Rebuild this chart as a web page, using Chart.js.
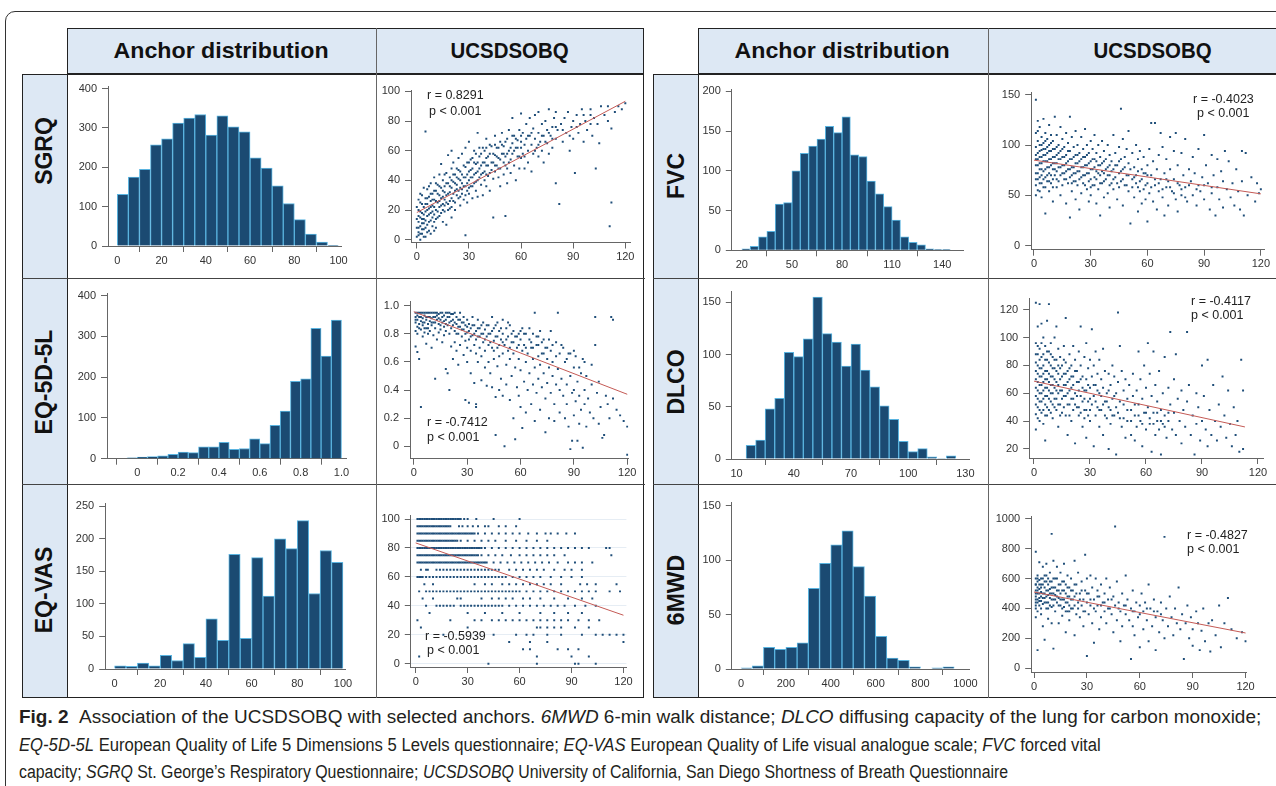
<!DOCTYPE html>
<html>
<head>
<meta charset="utf-8">
<script src="https://cdn.jsdelivr.net/npm/chart.js@4.4.1/dist/chart.umd.min.js"></script>
<style>
  body { margin: 0; background: #fff; }
  #fig { position: relative; width: 1276px; height: 786px; overflow: hidden; font-family: 'Liberation Sans', Arial, sans-serif; }
  .abs { position: absolute; box-sizing: border-box; }
  .blue { background: #dde8f4; }
  .box { border: 1.5px solid #222; }
  .hline { height: 0; border-top: 1px solid #444; }
  .vline { width: 0; border-left: 1px solid #666; }
  .head { font-weight: bold; font-size: 22px; color: #111; text-align: center; line-height: 46px; }
  .head span { display: inline-block; white-space: nowrap; }
  .rlab { font-weight: bold; font-size: 23px; color: #111; white-space: nowrap; transform: translate(-50%, -50%) rotate(-90deg); }
  .note { font-size: 12.5px; color: #222; white-space: nowrap; line-height: 14px; transform: translateY(-50%); }
  canvas { position: absolute; }
  .cap { position: absolute; left: 19px; width: max-content; white-space: nowrap; line-height: 22px; font-family: 'Liberation Sans', Arial, sans-serif; font-size: 18px; color: #231f20; transform-origin: 0 50%; }
</style>
</head>
<body>
<div id="fig">
  <!-- outer frame -->
  <div class="abs" style="left:4.5px;top:10.5px;width:1300px;height:800px;border:1.3px solid #333;border-radius:10px;"></div>

  <!-- left table -->
  <div class="abs blue box" style="left:67px;top:28px;width:577px;height:46px;"></div>
  <div class="abs blue box" style="left:21.5px;top:74px;width:46px;height:624px;"></div>
  <div class="abs box" style="left:67px;top:74px;width:577px;height:624px;"></div>
  <div class="abs hline" style="left:21.5px;top:278px;width:623px;"></div>
  <div class="abs hline" style="left:21.5px;top:484px;width:623px;"></div>
  <div class="abs vline" style="left:376px;top:28px;height:670px;"></div>
  <div class="abs head" style="left:67px;top:28px;width:309px;"><span data-w="215">Anchor distribution</span></div>
  <div class="abs head" style="left:376px;top:28px;width:268px;"><span data-w="118">UCSDSOBQ</span></div>

  <!-- right table -->
  <div class="abs blue box" style="left:698px;top:28px;width:640px;height:46px;"></div>
  <div class="abs blue box" style="left:652.5px;top:74px;width:46px;height:624px;"></div>
  <div class="abs box" style="left:698px;top:74px;width:640px;height:624px;"></div>
  <div class="abs hline" style="left:652.5px;top:278px;width:700px;"></div>
  <div class="abs hline" style="left:652.5px;top:484px;width:700px;"></div>
  <div class="abs vline" style="left:987.5px;top:28px;height:670px;"></div>
  <div class="abs head" style="left:698px;top:28px;width:289px;"><span data-w="215">Anchor distribution</span></div>
  <div class="abs head" style="left:987.5px;top:28px;width:331px;"><span data-w="118">UCSDSOBQ</span></div>

  <div id="labels"></div>
  <div id="plots"></div>
  <div id="notes"></div>

  <div class="cap" style="top:706px;"><b>Fig. 2</b>&nbsp;&nbsp;Association of the UCSDSOBQ with selected anchors. <i>6MWD</i> 6-min walk distance; <i>DLCO</i> diffusing capacity of the lung for carbon monoxide;</div>
  <div class="cap" style="top:734px;"><i>EQ-5D-5L</i> European Quality of Life 5 Dimensions 5 Levels questionnaire; <i>EQ-VAS</i> European Quality of Life visual analogue scale; <i>FVC</i> forced vital</div>
  <div class="cap" style="top:761px;">capacity; <i>SGRQ</i> St. George’s Respiratory Questionnaire; <i>UCSDSOBQ</i> University of California, San Diego Shortness of Breath Questionnaire</div>
</div>

<script>
// ---------- row labels ----------
const rowNames = ["SGRQ", "EQ-5D-5L", "EQ-VAS", "FVC", "DLCO", "6MWD"];

// ---------- histogram data (bin start, bin width, counts) ----------
const sgrqBin = [0, 5];
const sgrqCounts = [131, 175, 195, 257, 272, 312, 325, 334, 282, 331, 303, 290, 224, 198, 153, 108, 67, 30, 10, 2];

const eq5dBin = [-0.05, 0.05];
const eq5dCounts = [2, 4, 5, 7, 11, 16, 15, 29, 29, 40, 23, 25, 49, 37, 82, 117, 190, 196, 320, 252, 340];

const vasBin = [0, 5];
const vasCounts = [5, 4, 9, 5, 21, 13, 39, 18, 77, 44, 176, 47, 171, 112, 200, 185, 228, 116, 182, 164];

const fvcBin = [20, 5];
const fvcCounts = [2, 5, 17, 24, 58, 60, 100, 122, 131, 140, 156, 148, 168, 120, 118, 87, 71, 55, 38, 17, 10, 7, 2, 1, 1];

const dlcoBin = [15, 5];
const dlcoCounts = [13, 18, 48, 58, 102, 98, 115, 155, 120, 112, 89, 110, 85, 69, 51, 38, 17, 7, 10, 2, 0.5, 3];

const mwdBin = [0, 50];
const mwdCounts = [1, 3, 20, 18, 20, 24, 74, 97, 114, 127, 94, 67, 30, 10, 8, 2, 0, 1, 2];

// ---------- tick values ----------
const ticks0to100 = [0, 20, 40, 60, 80, 100];
const ticks0to400 = [0, 100, 200, 300, 400];
const ticksUcsd = [0, 30, 60, 90, 120];
const ticksEq5d = [0, 0.2, 0.4, 0.6, 0.8, 1.0];
const ticksVasY = [0, 50, 100, 150, 200, 250];
const ticksFvcX = [20, 50, 80, 110, 140];
const ticksFvcY = [0, 50, 100, 150, 200];
const ticksFvcScY = [0, 50, 100, 150];
const ticksDlcoX = [10, 40, 70, 100, 130];
const ticksDlcoY = [0, 50, 100, 150];
const ticksDlcoScY = [20, 40, 60, 80, 100, 120];
const ticksMwdX = [0, 200, 400, 600, 800, 1000];
const ticksMwdY = [0, 50, 100, 150];
const ticksMwdScY = [0, 200, 400, 600, 800, 1000];

// ---------- scatter data: [UCSDSOBQ, anchor] ----------
const sgrqPts = [
  [0,2],[0,8],[1,3],[1,12],[1,20],[1,5],[2,0],[2,15],[2,25],[2,9],[3,4],[3,18],[3,30],[3,11],[4,7],[4,22],[4,14],[5,2],[5,19],[5,28],[5,73],
  [6,10],[6,24],[6,34],[6,16],[7,6],[7,21],[7,29],[8,13],[8,26],[8,38],[8,18],[9,9],[9,23],[9,31],[10,17],[10,27],[10,42],[10,12],
  [11,20],[11,33],[11,8],[12,25],[12,37],[12,15],[13,22],[13,44],[13,30],[14,18],[14,28],[14,51],[15,12],[15,33],[15,24],[15,40],
  [16,27],[16,36],[16,19],[17,30],[17,45],[17,10],[18,24],[18,38],[18,57],[19,32],[19,21],[19,42],[20,28],[20,35],[20,48],[20,15],[20,60],
  [21,26],[21,39],[21,52],[22,33],[22,44],[22,20],[23,30],[23,48],[23,37],[24,28],[24,55],[24,41],[25,35],[25,23],[25,46],[26,38],[26,31],[26,58],
  [27,42],[27,27],[28,3],[28,36],[28,49],[28,62],[29,33],[29,44],[29,25],[30,40],[30,52],[30,31],[30,66],
  [31,36],[31,47],[32,28],[32,55],[32,42],[33,38],[33,60],[34,45],[34,33],[34,51],[35,40],[35,72],[35,29],[36,48],[36,56],[37,37],[37,44],
  [38,52],[38,62],[38,30],[39,46],[39,40],[40,55],[40,36],[40,68],[41,50],[41,43],[42,58],[42,33],[43,47],[43,63],[44,15],[44,52],[44,41],[45,57],[45,70],[45,46],
  [46,50],[46,62],[47,42],[47,55],[48,66],[48,48],[48,36],[49,58],[49,72],[50,52],[50,44],[50,63],[51,16],[51,56],[52,68],[52,48],[52,38],
  [53,60],[53,74],[54,54],[54,45],[55,65],[55,58],[55,82],[56,50],[56,70],[57,62],[57,40],[58,67],[58,56],[59,74],[59,48],[60,62],[60,55],[60,70],[60,85],
  [61,58],[61,72],[62,64],[62,48],[63,68],[63,78],[64,60],[64,52],[65,70],[65,82],[66,64],[66,46],[67,75],[67,58],[68,68],[68,84],[69,62],[70,72],[70,56],[70,86],
  [71,66],[72,78],[72,60],[73,70],[73,52],[74,80],[75,65],[75,74],[76,88],[76,58],[77,70],[78,76],[78,62],[79,82],[80,68],[80,86],[80,38],[82,24],[81,74],
  [83,78],[84,66],[85,82],[86,72],[87,86],[88,60],[89,76],[90,80],[90,68],[91,45],[92,84],[93,72],[94,78],[95,88],[96,66],[97,80],[98,74],
  [100,84],[100,88],[101,70],[102,82],[104,78],[105,65],[106,90],[108,84],[110,80],[110,90],[111,9],[112,25],[112,75],[114,86],[116,90],[118,88],[120,92],[103,48],
  [0,14],[0,22],[1,8],[1,16],[1,27],[2,4],[2,19],[2,31],[3,7],[3,14],[3,24],[4,2],[4,11],[4,17],[4,35],[5,8],[5,13],[5,24],[6,5],[6,20],[6,28],[7,12],[7,17],[7,36],
  [8,4],[8,22],[8,31],[9,15],[9,19],[9,27],[10,6],[10,22],[10,33],[11,14],[11,26],[11,38],[12,19],[12,31],[13,16],[13,26],[13,36],[14,23],[14,35],[15,20],[15,29],
  [16,23],[16,32],[16,44],[17,25],[17,38],[18,20],[18,31],[19,26],[19,36],[20,22],[20,40],[21,31],[21,44],[22,25],[22,38],[23,34],[23,42],[24,33],[24,47],[25,29],[25,40],
  [26,34],[26,44],[27,36],[27,50],[28,30],[28,42],[29,38],[29,52],[30,35],[30,46],[31,42],[31,54],[32,36],[32,48],[33,44],[33,52],[34,39],[34,58],[35,46],[35,52],
  [36,42],[36,62],[37,50],[37,58],[38,45],[39,52],[39,60],[40,44],[40,50],[40,62],[41,56],[42,45],[42,64],[43,52],[44,58],[45,50],[45,64],[46,56],[47,48],[47,62],
  [48,54],[49,64],[50,58],[51,50],[51,66],[52,58],[53,52],[54,62],[55,70],[56,60],[57,68],[58,62],[59,56],[60,66],[62,56],[64,70],[66,72],[68,60],[70,64],[72,70],
  [74,66],[76,72],[78,68],[80,76],[84,74],[88,70],[92,76],[96,84],[100,78]
];
const sgrqFit = [[0, 18.3], [120, 93.3]];

const eq5dPts = [
  [1,0.95],[1,0.92],[1,0.88],[1,0.82],[1,0.71],[2,0.95],[2,0.9],[2,0.85],[2,0.8],[2,0.67],[3,0.95],[3,0.92],[3,0.87],[3,0.62],[4,0.95],[4,0.89],[4,0.83],[4,0.28],
  [5,0.95],[5,0.91],[5,0.86],[5,0.78],[6,0.95],[6,0.93],[6,0.88],[6,0.81],[7,0.95],[7,0.9],[7,0.84],[7,0.73],[8,0.95],[8,0.92],[8,0.87],[8,0.8],[9,0.95],[9,0.89],[9,0.82],
  [10,0.95],[10,0.91],[10,0.86],[10,0.7],[11,0.95],[11,0.88],[11,0.79],[12,0.95],[12,0.92],[12,0.84],[12,0.48],[13,0.95],[13,0.9],[13,0.76],[14,0.94],[14,0.87],[14,0.81],[15,0.95],[15,0.9],[15,0.83],
  [16,0.95],[16,0.88],[16,0.74],[17,0.93],[17,0.85],[17,0.79],[18,0.95],[18,0.9],[18,0.82],[18,0.55],[19,0.92],[19,0.86],[19,0.52],[20,0.95],[20,0.88],[20,0.8],[20,0.4],
  [21,0.94],[21,0.84],[21,0.71],[22,0.9],[22,0.86],[22,0.62],[23,0.95],[23,0.82],[23,0.74],[24,0.92],[24,0.87],[24,0.68],[25,0.9],[25,0.8],[25,0.58],[26,0.95],[26,0.85],[26,0.72],
  [27,0.88],[27,0.78],[28,0.92],[28,0.83],[28,0.65],[29,0.86],[29,0.75],[29,0.33],[30,0.9],[30,0.81],[30,0.7],[30,0.6],[31,0.87],[31,0.76],[31,0.31],[32,0.84],[32,0.68],[32,0.52],
  [33,0.92],[33,0.79],[34,0.86],[34,0.72],[34,0.45],[35,0.82],[35,0.66],[35,0.3],[35,0.28],
  [36,0.9],[36,0.78],[36,0.6],[37,0.84],[37,0.7],[38,0.8],[38,0.64],[38,0.47],[39,0.88],[39,0.74],[40,0.83],[40,0.68],[40,0.56],[41,0.78],[41,0.43],[42,0.86],[42,0.72],[42,0.6],
  [43,0.8],[43,0.52],[44,0.92],[44,0.7],[44,0.42],[45,0.84],[45,0.75],[45,0.62],[46,0.78],[46,0.35],[46,0.08],[47,0.88],[47,0.7],[47,0.57],[48,0.82],[48,0.64],[48,0.4],
  [49,0.76],[49,0.48],[50,0.9],[50,0.8],[50,0.66],[50,0.36],[51,0.72],[51,0.0],[52,0.84],[52,0.58],[52,0.44],[53,0.78],[53,0.68],[54,0.86],[54,0.62],[54,0.33],[55,0.74],[55,0.5],
  [56,0.82],[56,0.66],[56,0.2],[57,0.78],[57,0.56],[57,0.05],[58,0.7],[58,0.42],[59,0.8],[59,0.62],[59,0.36],[60,0.76],[60,0.54],[60,0.28],
  [61,0.84],[61,0.68],[61,0.13],[62,0.72],[62,0.46],[63,0.8],[63,0.6],[63,0.24],[64,0.66],[64,0.4],[65,0.76],[65,0.52],[66,0.7],[66,0.3],[67,0.8],[67,0.62],[67,0.44],
  [68,0.95],[68,0.56],[68,0.18],[69,0.72],[69,0.38],[70,0.78],[70,0.64],[70,0.48],[71,0.58],[71,0.26],[72,0.74],[72,0.42],[73,0.66],[73,0.52],[74,0.7],[74,0.34],[74,0.1],
  [75,0.62],[75,0.45],[76,0.56],[76,0.2],[77,0.68],[77,0.38],[78,0.6],[78,0.5],[79,0.3],[79,0.18],[80,0.64],[80,0.44],[81,0.95],[81,0.55],[82,0.4],[82,0.24],[83,0.72],[83,0.48],
  [84,0.36],[85,0.6],[85,0.2],[86,0.44],[86,0.3],[87,0.66],[87,0.14],[88,0.5],[88,-0.02],[89,0.38],[89,0.04],[90,0.56],[90,0.4],[90,0.22],
  [91,0.64],[91,0.32],[92,0.46],[92,0.04],[93,0.36],[93,0.16],[94,0.52],[94,0.26],[95,0.62],[95,-0.01],[96,0.4],[96,0.3],[97,0.5],[97,0.14],[98,0.34],[99,0.24],
  [100,0.44],[100,0.58],[101,0.2],[102,0.92],[102,0.72],[103,0.38],[104,0.46],[104,0.16],[105,0.28],[106,0.06],[107,0.08],[108,0.36],[109,0.3],[110,0.2],
  [111,0.92],[112,0.9],[112,0.34],[114,0.26],[116,0.22],[118,0.18],[120,0.14],[120,-0.06],
  [1,0.9],[2,0.93],[3,0.84],[4,0.92],[5,0.88],[6,0.84],[7,0.92],[8,0.84],[9,0.92],[10,0.88],[11,0.92],[12,0.88],[13,0.93],[14,0.91],[15,0.86],[16,0.92],[17,0.89],
  [18,0.87],[19,0.95],[20,0.92],[21,0.89],[22,0.94],[23,0.88],[24,0.8],[25,0.85],[26,0.9],[27,0.83],[28,0.88],[29,0.8],[30,0.85],[31,0.82],[32,0.78],[33,0.86],
  [34,0.8],[35,0.76],[36,0.84],[37,0.78],[38,0.86],[39,0.8],[40,0.76],[41,0.86],[42,0.8],[43,0.74],[44,0.82],[45,0.68],[46,0.86],[47,0.78],[48,0.72],[49,0.84],
  [50,0.74],[52,0.76],[53,0.88],[54,0.7],[55,0.8],[56,0.74],[58,0.78],[59,0.72],[60,0.82],[62,0.8],[63,0.7],[65,0.84],[66,0.74],[67,0.7],[69,0.78],[70,0.72],
  [71,0.82],[72,0.66],[73,0.76],[75,0.7],[76,0.76],[77,0.82],[78,0.72],[80,0.74],[82,0.66],[84,0.7],[86,0.62],[88,0.66],[90,0.68],[93,0.56],[96,0.6]
];
const eq5dFit = [[0, 0.957], [120, 0.37]];

// EQ-VAS answers sit on whole steps, so its cloud is kept as rows
const vasLevels = [100, 95, 90, 85, 80, 75, 70, 65, 60, 55, 50, 45, 40, 35, 30, 25, 20, 15, 10, 5, 0];
const vasRowsX = [
  [1,2,3,4,5,6,7,8,9,10,11,12,13,14,15,16,17,18,19,20,21,22,23,24,25,26,28,30,35,45,60],
  [1,2,3,4,5,6,7,8,9,10,11,12,13,14,15,16,17,18,19,20,25,27,30,33,36,40,42,48,52,58],
  [1,2,3,4,5,6,7,8,9,10,11,12,13,14,15,16,17,18,19,20,21,22,23,24,25,26,27,28,29,30,31,32,33,34,36,40,44,48,52,56,60,65,70,75,78,82,87,92],
  [1,2,3,4,5,6,7,8,9,10,11,12,13,14,15,16,17,18,19,20,21,22,23,24,26,30,34,38,42,46,52,58,64,70,76],
  [1,2,3,4,5,6,7,8,9,10,11,12,13,14,15,16,17,18,19,20,21,22,23,24,25,26,27,28,29,30,31,32,33,34,35,36,37,38,40,44,48,52,56,60,64,68,72,76,80,84,88,92,96,100,110,112],
  [1,2,3,4,5,6,7,8,9,10,11,12,13,14,15,16,17,18,19,20,21,22,23,24,25,26,27,28,29,30,31,32,33,34,35,36,38,42,46,50,55,60,64,68,72,76,80,86,113],
  [1,2,3,4,5,6,7,8,9,10,11,12,13,14,15,16,17,18,19,20,21,22,23,24,25,26,27,28,29,30,31,32,33,34,35,36,37,38,39,40,41,45,49,53,57,61,65,69,73,77,82,88,92,96,102],
  [3,6,7,12,14,16,18,20,22,24,26,28,30,32,34,36,38,40,42,44,46,48,54,58,62,66,70,74,80,86,90,96],
  [1,2,3,4,6,8,10,12,14,16,18,20,22,24,26,28,30,32,34,36,38,40,42,44,46,48,50,52,56,60,64,68,72,78,84,90,96],
  [5,10,34,40,44,50,54,58,62,66,70,74,78,84,95,99,104,116],
  [2,6,8,10,12,14,16,18,20,22,24,26,28,30,32,34,36,38,40,42,44,46,48,50,52,54,56,58,60,64,68,72,76,80,84,88,92,96,100,104,112,118],
  [4,10,24,26,38,44,48,52,56,62,66,72,80,88,96,102],
  [6,12,14,16,18,20,22,26,28,30,32,34,36,38,40,42,44,46,48,50,54,58,62,66,70,74,78,82,86,92,98,104],
  [8,30,40,50,60,72,80,88,96],
  [1,20,34,38,44,48,52,56,60,64,68,72,76,80,84,88,94,100,106],
  [3,30,70,72,76,80,84,92,100],
  [16,45,58,64,68,76,84,96,104,108,112,116,120],
  [54,66,76,120],
  [62,66,82,88,94],
  [2,70,90,100],
  [42,70,92,94,104]
];
const vasFit = [[0, 83.5], [120, 33.5]];

const fvcPts = [
  [1,145],[1,112],[1,98],[1,86],[1,72],[1,60],[1,50],[2,124],[2,104],[2,92],[2,80],[2,66],[2,55],[3,118],[3,100],[3,88],[3,76],[3,62],[4,108],[4,95],[4,82],[4,70],[4,48],
  [5,126],[5,102],[5,90],[5,74],[5,58],[6,112],[6,96],[6,84],[6,68],[6,32],[7,106],[7,92],[7,78],[7,64],[8,120],[8,100],[8,86],[8,72],[8,54],[9,110],[9,94],[9,80],[9,62],
  [10,104],[10,88],[10,76],[10,66],[10,44],
  [11,128],[11,96],[11,82],[11,70],[12,110],[12,90],[12,74],[12,58],[13,100],[13,86],[13,64],[14,118],[14,94],[14,78],[14,50],[15,106],[15,88],[15,72],[15,60],
  [16,98],[16,80],[16,66],[17,112],[17,90],[17,74],[17,42],[18,102],[18,84],[18,62],[19,128],[19,94],[19,76],[19,28],[20,108],[20,86],[20,70],[20,54],
  [21,98],[21,78],[21,64],[22,114],[22,90],[22,72],[22,46],[23,100],[23,82],[23,60],[24,92],[24,74],[24,36],[25,108],[25,86],[25,68],[25,52],[26,96],[26,78],[26,62],
  [27,116],[27,88],[27,70],[28,100],[28,80],[28,56],[29,92],[29,72],[29,44],[30,104],[30,84],[30,66],[30,50],
  [31,96],[31,76],[31,60],[32,110],[32,86],[32,68],[33,92],[33,74],[33,42],[34,100],[34,80],[34,56],[35,88],[35,70],[35,30],[36,104],[36,82],[36,62],[37,94],[37,72],[37,48],
  [38,86],[38,66],[39,100],[39,78],[39,52],[40,90],[40,70],[40,38],[41,84],[41,62],[42,110],[42,76],[42,56],[43,92],[43,68],[44,80],[44,46],[45,98],[45,72],[45,58],
  [46,136],[46,86],[46,64],[47,106],[47,76],[47,40],[48,88],[48,60],[49,96],[49,70],[50,82],[50,54],[50,114],[51,22],[52,92],[52,66],[53,78],[53,48],[54,100],[54,70],
  [55,86],[55,58],[55,34],[56,94],[56,64],[57,76],[57,42],[58,88],[58,56],[59,72],[59,46],[60,80],[60,24],[60,62],
  [61,96],[61,52],[62,122],[62,70],[63,84],[63,44],[64,122],[64,60],[65,76],[65,36],[66,90],[66,54],[67,112],[67,66],[68,98],[68,48],[69,72],[69,30],[70,86],[70,58],
  [71,64],[71,40],[72,108],[72,76],[73,54],[74,94],[74,66],[75,112],[75,46],[76,80],[76,34],[77,60],[78,92],[78,50],[79,70],[80,58],[80,106],[81,44],[82,76],[83,64],
  [84,88],[84,50],[85,72],[86,40],[87,96],[87,60],[88,54],[89,68],[90,110],[90,46],
  [91,80],[92,62],[93,36],[94,90],[94,52],[95,70],[96,30],[97,86],[97,58],[98,46],[99,74],[100,64],[100,38],[101,94],[102,56],[103,84],[104,48],[105,62],[106,40],
  [107,76],[108,54],[109,36],[110,64],[110,94],[111,30],[112,92],[113,50],[115,68],[117,44],[118,62],[119,52],[120,56],
  [1,90],[1,80],[1,66],[2,114],[2,86],[2,72],[3,94],[3,82],[3,68],[3,54],[4,100],[4,88],[4,76],[4,62],[5,96],[5,84],[5,66],[6,104],[6,90],[6,76],[6,58],
  [7,98],[7,84],[7,70],[8,94],[8,78],[8,64],[9,102],[9,86],[9,70],[10,96],[10,82],[10,58],[11,88],[11,76],[12,98],[12,82],[12,66],[13,92],[13,78],[14,86],[14,70],
  [15,96],[15,80],[16,88],[16,72],[17,82],[17,66],[18,94],[18,76],[19,86],[19,68],[20,78],[20,62],[21,88],[21,72],[22,82],[22,64],[23,90],[23,74],[24,84],[24,66],
  [25,78],[26,88],[26,70],[27,80],[27,60],[28,72],[28,90],[29,82],[29,64],[30,76],[30,58],[31,86],[32,78],[32,60],[33,84],[33,66],[34,72],[35,80],[35,62],[36,74],
  [37,84],[37,64],[38,76],[39,70],[40,80],[40,60],[41,74],[42,66],[43,80],[44,62],[45,84],[46,74],[47,66],[48,78],[49,60],[50,70],[51,76],[52,58],[53,68],[54,62],
  [55,74],[56,54],[57,66],[58,72],[59,60],[60,70],[62,58],[64,66],[66,62],[68,56],[70,66],[72,58],[74,52],[76,62],[78,56],[80,48],[82,60],[86,56],[90,60],[94,58]
];
const fvcFit = [[0, 85], [120, 51.5]];

const dlcoPts = [
  [1,125],[1,96],[1,82],[1,70],[1,58],[1,45],[1,34],[2,108],[2,88],[2,74],[2,62],[2,50],[3,124],[3,92],[3,78],[3,66],[3,54],[3,40],[4,110],[4,86],[4,72],[4,60],[4,46],
  [5,100],[5,80],[5,68],[5,56],[5,38],[6,94],[6,76],[6,64],[6,52],[6,26],[7,112],[7,84],[7,70],[7,58],[7,44],[8,124],[8,90],[8,74],[8,62],[8,48],[9,96],[9,80],[9,66],[9,54],
  [10,86],[10,72],[10,60],[10,42],
  [11,100],[11,78],[11,64],[11,50],[12,108],[12,84],[12,68],[12,56],[13,92],[13,74],[13,60],[13,36],[14,86],[14,70],[14,52],[15,80],[15,62],[15,46],[16,94],[16,74],[16,58],
  [17,114],[17,82],[17,66],[17,44],[18,76],[18,60],[18,30],[19,88],[19,70],[19,52],[20,80],[20,64],[20,40],[21,94],[21,72],[21,56],[22,84],[22,60],[22,24],[23,76],[23,50],
  [24,90],[24,68],[24,44],[25,108],[25,80],[25,58],[26,72],[26,36],[27,86],[27,62],[27,48],[28,96],[28,70],[28,28],[29,78],[29,54],[30,84],[30,64],[30,40],
  [31,106],[31,72],[31,52],[32,80],[32,58],[32,22],[33,90],[33,66],[33,44],[34,74],[34,50],[35,84],[35,60],[35,36],[36,70],[36,48],[37,92],[37,64],[37,30],[38,76],[38,54],
  [39,60],[39,42],[40,74],[40,50],[40,20],[41,66],[41,38],[42,80],[42,56],[43,72],[43,44],[44,60],[44,16],[45,118],[45,68],[45,46],[46,94],[46,54],[47,76],[47,36],
  [48,62],[48,42],[49,70],[49,28],[50,56],[50,40],[51,66],[52,48],[52,30],[53,74],[53,58],[54,44],[54,26],[55,62],[55,36],[56,90],[56,52],[57,70],[57,40],[58,56],[58,22],
  [59,80],[59,46],[60,64],[60,34],
  [61,96],[61,50],[62,74],[62,38],[63,58],[63,18],[64,90],[64,46],[65,66],[65,30],[66,54],[66,40],[67,76],[67,34],[68,48],[68,16],[69,60],[69,38],[70,86],[70,44],
  [71,28],[72,64],[72,40],[73,104],[73,52],[74,34],[75,70],[75,46],[76,88],[76,30],[77,56],[78,40],[79,62],[79,24],[80,48],[81,36],[82,104],[82,54],[83,66],[84,30],
  [85,44],[86,16],[87,60],[87,38],[88,50],[89,26],[90,40],[90,80],
  [91,58],[92,34],[93,84],[93,22],[94,48],[95,30],[96,66],[97,40],[98,26],[99,52],[100,36],[101,72],[102,44],[103,28],[104,62],[105,38],[106,22],[107,50],[108,30],
  [109,40],[110,18],[111,84],[112,62],[112,20],
  [1,88],[1,76],[1,64],[1,52],[2,94],[2,80],[2,68],[2,56],[2,42],[3,84],[3,72],[3,60],[3,48],[4,96],[4,78],[4,66],[4,54],[5,88],[5,74],[5,62],[5,48],[6,84],[6,70],
  [6,58],[6,44],[7,90],[7,76],[7,64],[7,50],[8,82],[8,68],[8,56],[9,88],[9,72],[9,60],[9,46],[10,78],[10,66],[10,52],[11,84],[11,70],[11,56],[12,76],[12,62],[12,48],
  [13,80],[13,66],[13,52],[14,78],[14,62],[14,44],[15,72],[15,56],[16,84],[16,66],[16,50],[17,74],[17,58],[18,68],[18,52],[19,78],[19,62],[19,44],[20,72],[20,56],
  [21,66],[21,48],[22,76],[22,52],[23,68],[23,58],[24,62],[24,50],[25,70],[25,46],[26,64],[26,54],[27,56],[27,42],[28,62],[28,48],[29,66],[29,44],[30,56],[30,48],
  [32,66],[33,54],[34,62],[35,48],[36,58],[37,52],[38,44],[39,54],[40,62],[41,48],[42,44],[43,58],[44,50],[46,42],[48,52],[50,48],[52,40],[54,52],[56,44],[58,38],
  [60,46],[62,42],[64,38],[66,46],[68,40],[70,36],[72,46]
];
const dlcoFit = [[0, 68.7], [113, 35.8]];

const mwdPts = [
  [1,780],[1,600],[1,560],[1,520],[1,480],[1,440],[1,400],[1,340],[2,620],[2,580],[2,540],[2,500],[2,460],[2,380],[2,120],[3,710],[3,590],[3,530],[3,470],[3,420],
  [4,560],[4,510],[4,450],[4,360],[5,680],[5,600],[5,500],[5,430],[5,280],[6,580],[6,540],[6,470],[6,190],[7,700],[7,620],[7,520],[7,400],[8,560],[8,490],[8,440],[8,330],
  [9,640],[9,530],[9,470],[10,900],[10,580],[10,500],[10,410],[10,300],
  [11,720],[11,540],[11,460],[11,130],[12,600],[12,490],[12,380],[13,680],[13,520],[13,440],[14,560],[14,470],[14,300],[15,640],[15,500],[15,420],[16,580],[16,460],[16,350],
  [17,700],[17,520],[17,410],[18,560],[18,440],[18,240],[19,620],[19,480],[19,380],[20,540],[20,420],[20,320],[21,600],[21,460],[22,520],[22,400],[23,720],[23,480],[23,220],
  [24,560],[24,360],[25,640],[25,440],[26,500],[26,340],[27,580],[27,420],[28,460],[28,280],[29,760],[29,520],[29,380],[30,600],[30,440],[30,80],
  [31,500],[31,360],[32,620],[32,420],[33,540],[33,300],[34,460],[34,170],[35,600],[35,380],[36,520],[36,420],[37,480],[37,260],[38,560],[38,340],[39,440],[40,500],[40,380],
  [41,600],[41,300],[42,460],[43,400],[43,540],[44,360],[45,480],[45,240],[46,950],[46,420],[47,580],[47,320],[48,440],[49,380],[49,180],[50,500],[50,280],[51,420],
  [52,620],[52,360],[53,460],[54,320],[55,400],[55,60],[56,520],[56,280],[57,380],[57,220],[58,440],[59,340],[60,420],[60,140],
  [61,500],[62,380],[62,260],[63,440],[64,320],[65,560],[65,180],[66,400],[67,280],[68,460],[69,340],[69,120],[70,380],[71,240],[72,440],[73,320],[74,880],[74,200],
  [75,400],[76,280],[77,480],[78,340],[79,220],[80,400],[81,300],[82,540],[83,260],[84,360],[85,60],[86,300],[87,420],[88,200],[89,340],[90,150],[90,260],
  [92,380],[93,300],[94,120],[95,250],[96,400],[97,180],[99,300],[100,110],[101,320],[103,220],[105,420],[106,140],[108,300],[110,470],[112,260],[115,200],[118,240],[120,180],
  [1,560],[1,500],[1,460],[1,420],[2,600],[2,520],[2,440],[3,560],[3,500],[3,450],[4,600],[4,540],[4,480],[4,400],[5,560],[5,470],[6,620],[6,500],[6,440],[7,580],
  [7,480],[7,440],[8,600],[8,520],[8,400],[9,580],[9,500],[9,420],[10,540],[10,460],[11,600],[11,500],[11,420],[12,540],[12,460],[13,600],[13,480],[14,520],[14,420],
  [15,560],[15,460],[16,520],[16,400],[17,580],[17,460],[18,500],[18,380],[19,540],[19,440],[20,480],[20,380],[21,520],[21,400],[22,460],[23,560],[23,420],[24,500],
  [25,400],[26,460],[27,520],[28,380],[30,500],[32,460],[34,400],[36,480],[38,420],[40,440],[42,400],[44,460],[48,400],[52,420],[56,380],[60,360],[64,400],[68,380],[72,360]
];
const mwdFit = [[0, 510], [120, 235]];

// correlation notes
const sgrqNote = ["r = 0.8291", "p < 0.001"];
const eq5dNote = ["r = -0.7412", "p < 0.001"];
const vasNote = ["r = -0.5939", "p < 0.001"];
const fvcNote = ["r = -0.4023", "p < 0.001"];
const dlcoNote = ["r = -0.4117", "p < 0.001"];
const mwdNote = ["r = -0.4827", "p < 0.001"];

// ===============================
// layout (page pixels)
// ===============================
const BAR_FILL = "#1b4a72";
const BAR_EDGE = "#5ab4e0";
const DOT = "#1f4e79";
const FIT = "#c45a55";
const AXIS = "#666";

const colL = { hist: [68, 307], scat: [377, 266] };
const colR = { hist: [699, 288], scat: [988, 288] };
const rows = [[75, 203], [279, 205], [485, 212]];

// label cells
[[44.3, 151], [44.3, 382], [44.3, 590], [675.5, 176], [675.5, 382], [675.5, 590]].forEach((p, i) => {
  const d = document.createElement("div");
  d.className = "abs rlab";
  d.style.left = p[0] + "px";
  d.style.top = p[1] + "px";
  d.textContent = rowNames[i];
  document.getElementById("labels").appendChild(d);
});

function addNote(lines, x, y1, y2, dx2) {
  const host = document.getElementById("notes");
  [[lines[0], x, y1], [lines[1], x + (dx2 || 0), y2]].forEach(([t, lx, ly]) => {
    const d = document.createElement("div");
    d.className = "abs note";
    d.style.left = lx + "px";
    d.style.top = ly + "px";
    d.textContent = t;
    host.appendChild(d);
  });
}

function makeCanvas(col, row) {
  const c = document.createElement("canvas");
  c.width = col[1];
  c.height = row[1];
  c.style.left = col[0] + "px";
  c.style.top = row[0] + "px";
  document.getElementById("plots").appendChild(c);
  return c;
}

// y axis box fills the space left of the plot, x axis box the space under it
function axis(pos, range, tickVals, size, fmt, grid) {
  return {
    type: "linear",
    position: pos,
    min: range[0],
    max: range[1],
    offset: false,
    afterFit: s => { if (pos === "left") s.width = size; else s.height = size; },
    afterBuildTicks: s => { s.ticks = tickVals.map(v => ({ value: v })); },
    grid: {
      drawOnChartArea: !!grid,
      color: grid || AXIS,
      tickColor: AXIS,
      drawTicks: true,
      tickLength: 6,
      lineWidth: 1
    },
    border: { display: true, color: AXIS, width: 1 },
    ticks: {
      autoSkip: false,
      maxRotation: 0,
      minRotation: 0,
      padding: pos === "left" ? 5 : 2,
      color: "#333",
      font: { family: "'Liberation Sans', Arial, sans-serif", size: 11 },
      callback: v => fmt ? fmt(v) : String(v)
    }
  };
}

function frame(col, row, area) {
  return {
    pad: { left: 0, bottom: 0, top: area[1] - row[0], right: col[0] + col[1] - area[2] },
    yw: area[0] - col[0],
    xh: row[0] + row[1] - area[3]
  };
}

const baseOpts = {
  responsive: false,
  animation: false,
  events: [],
  plugins: { legend: { display: false }, tooltip: { enabled: false } }
};

function histChart(col, row, area, xr, yr, xt, yt, bin, counts, fmtX) {
  const f = frame(col, row, area);
  const pts = counts.map((n, i) => ({ x: bin[0] + bin[1] * (i + 0.5), y: n }));
  new Chart(makeCanvas(col, row), {
    type: "bar",
    data: {
      datasets: [{
        data: pts,
        backgroundColor: BAR_FILL,
        borderColor: BAR_EDGE,
        borderWidth: 1,
        barPercentage: 1,
        categoryPercentage: 1
      }]
    },
    options: Object.assign({}, baseOpts, {
      layout: { padding: f.pad },
      scales: {
        x: axis("bottom", xr, xt, f.xh, fmtX),
        y: axis("left", yr, yt, f.yw)
      }
    })
  });
}

function scatterChart(col, row, area, xr, yr, yt, pts, fit, fmtY, gridY) {
  const f = frame(col, row, area);
  new Chart(makeCanvas(col, row), {
    type: "scatter",
    data: {
      datasets: [
        {
          type: "line",
          data: fit.map(p => ({ x: p[0], y: p[1] })),
          borderColor: FIT,
          borderWidth: 1,
          pointRadius: 0,
          fill: false,
          order: 0
        },
        {
          data: pts.map(p => ({ x: p[0], y: p[1] })),
          backgroundColor: DOT,
          borderWidth: 0,
          pointStyle: "rect",
          pointRadius: 1.4,
          order: 1
        }
      ]
    },
    options: Object.assign({}, baseOpts, {
      layout: { padding: f.pad },
      scales: {
        x: axis("bottom", xr, ticksUcsd, f.xh),
        y: axis("left", yr, yt, f.yw, fmtY, gridY)
      }
    })
  });
}

const dec = v => (v === 0 ? "0" : v.toFixed(1));
const vasPts = [];
vasLevels.forEach((lvl, i) => vasRowsX[i].forEach(x => vasPts.push([x, lvl])));

// ---------- left table ----------
histChart(colL.hist, rows[0], [108, 84, 341, 246], [-4.2, 101.1], [0, 405], ticks0to100, ticks0to400, sgrqBin, sgrqCounts);
scatterChart(colL.scat, rows[0], [411, 90, 630, 242.5], [-3.34, 122.7], [-1.9, 100.9], ticks0to100, sgrqPts, sgrqFit);
addNote(sgrqNote, 427, 95, 111, 2);

histChart(colL.hist, rows[1], [107, 293, 346, 458.7], [-0.148, 1.022], [0, 406.6], ticksEq5d, ticks0to400, eq5dBin, eq5dCounts, dec);
scatterChart(colL.scat, rows[1], [410, 301.3, 628.3, 458.7], [-2.14, 120.6], [-0.088, 1.031], ticksEq5d, eq5dPts, eq5dFit, dec);
addNote(eq5dNote, 427, 422, 437);

histChart(colL.hist, rows[2], [105.2, 503, 345, 669], [-4.1, 100.9], [0, 255], ticks0to100, ticksVasY, vasBin, vasCounts);
scatterChart(colL.scat, rows[2], [410.8, 515.3, 626.4, 667], [-2.83, 121.7], [-2.3, 102.6], ticks0to100, vasPts, vasFit, null, "#e6edf4");
addNote(vasNote, 425, 636, 650, 2);

// ---------- right table ----------
histChart(colR.hist, rows[0], [731.8, 89.7, 963.4, 250.3], [14, 152.7], [0, 202], ticksFvcX, ticksFvcY, fvcBin, fvcCounts);
scatterChart(colR.scat, rows[0], [1031.2, 92, 1264.8, 249.7], [-1.48, 122.1], [-4, 152.7], ticksFvcScY, fvcPts, fvcFit);
addNote(fvcNote, 1193, 99, 113, 4);

histChart(colR.hist, rows[1], [731.8, 291.3, 969.4, 459], [7.5, 132.1], [0, 160.5], ticksDlcoX, ticksDlcoY, dlcoBin, dlcoCounts);
scatterChart(colR.scat, rows[1], [1029.2, 298, 1263.6, 458], [-2.57, 123], [13.5, 128.4], ticksDlcoScY, dlcoPts, dlcoFit);
addNote(dlcoNote, 1191, 301, 315);

histChart(colR.hist, rows[2], [731.8, 502.3, 969.4, 669], [-41, 1017.8], [0, 153.1], ticksMwdX, ticksMwdY, mwdBin, mwdCounts);
scatterChart(colR.scat, rows[2], [1031.2, 516.3, 1246.8, 672], [-1.6, 120.7], [-26.8, 1018], ticksMwdScY, mwdPts, mwdFit);
addNote(mwdNote, 1187, 535, 549);

// ---------- stretch header words and caption lines to the printed width ----------
document.querySelectorAll(".head span").forEach(el => {
  const w = el.offsetWidth;
  if (w > 0) el.style.transform = "scaleX(" + (Number(el.dataset.w) / w).toFixed(4) + ")";
});
const capWidths = [1242, 1082, 989];
document.querySelectorAll(".cap").forEach((el, i) => {
  const w = el.offsetWidth;
  if (w > 0) el.style.transform = "scaleX(" + (capWidths[i] / w).toFixed(4) + ")";
});
</script>
</body>
</html>
